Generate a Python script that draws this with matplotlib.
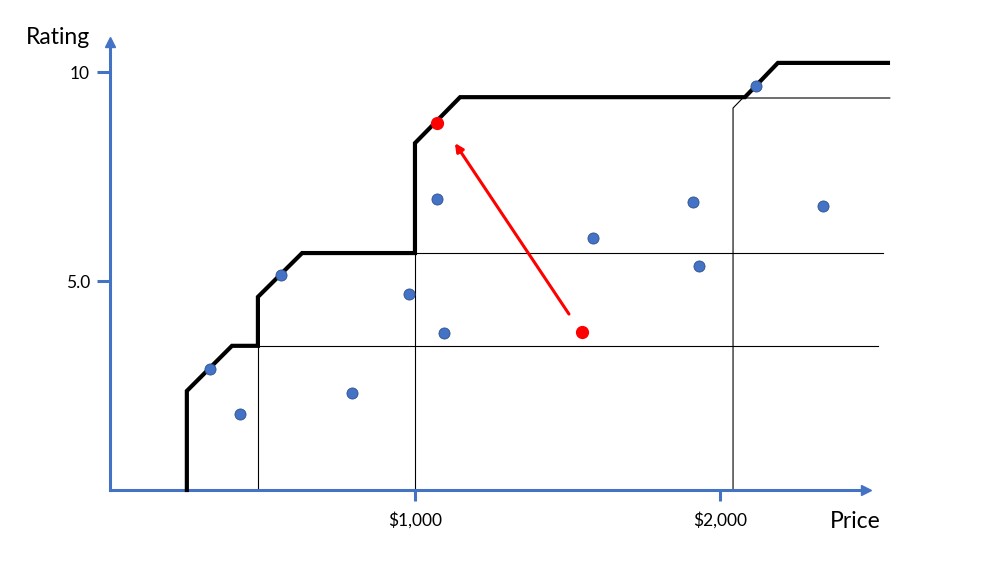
import matplotlib
matplotlib.use("Agg")
import matplotlib.pyplot as plt

# price / rating data
blue_price = [328, 426, 560, 794, 981, 1072, 1095, 1583, 1912, 1931, 2118, 2339]
blue_rating = [2.90, 1.81, 5.14, 2.32, 4.68, 6.96, 3.76, 6.02, 6.88, 5.35, 9.67, 6.80]

red_price = [1072, 1549]
red_rating = [8.78, 3.78]

# Pareto frontier (thick black step line)
frontier_price = [252, 252, 400, 485, 485, 630, 1000, 1000, 1148, 2082, 2190, 2551]
frontier_rating = [0, 2.37, 3.45, 3.45, 4.62, 5.67, 5.67, 8.30, 9.40, 9.40, 10.22, 10.22]

# thin guide lines (price list, rating list)
guides = [
    ([485, 485], [0, 3.45]),
    ([485, 2518], [3.45, 3.45]),
    ([1000, 1000], [0, 5.67]),
    ([1000, 2534], [5.67, 5.67]),
    ([2043, 2043, 2075, 2557], [0, 9.14, 9.38, 9.38]),
]

arrow_start = (1505, 4.21)
arrow_end = (1131, 8.30)

x_ticks = [1000, 2000]
x_ticklabels = ["$1,000", "$2,000"]
y_ticks = [5, 10]
y_ticklabels = ["5.0", "10"]

AXIS_BLUE = "#4472C4"
W, H = 1006, 563

plt.rcParams["font.family"] = ["Lato", "DejaVu Sans"]

fig = plt.figure(figsize=(W / 100, H / 100), dpi=100)
ax = fig.add_axes([110 / W, (H - 490) / H, (866 - 110) / W, (490 - 42) / H])
ax.set_xlim(0, 2479)
ax.set_ylim(0, 10.72)

for g_x, g_y in guides:
    ax.plot(g_x, g_y, color="black", lw=0.8, clip_on=False, zorder=2)

ax.plot(frontier_price, frontier_rating, color="black", lw=3.0,
        solid_joinstyle="miter", clip_on=False, zorder=3)

ax.annotate("", xy=arrow_end, xytext=arrow_start,
            arrowprops=dict(arrowstyle="-|>", color="red", lw=2.2,
                            mutation_scale=12, shrinkA=0, shrinkB=0),
            zorder=4)

ax.plot(blue_price, blue_rating, "o", color=AXIS_BLUE, markeredgecolor="#2F528F",
        markeredgewidth=0.6, markersize=8, clip_on=False, zorder=5)
ax.plot(red_price, red_rating, "o", color="red", markeredgecolor="red",
        markersize=8.5, clip_on=False, zorder=5)

for side in ("top", "right"):
    ax.spines[side].set_visible(False)
for side in ("left", "bottom"):
    ax.spines[side].set_color(AXIS_BLUE)
    ax.spines[side].set_linewidth(2.2)

# arrow heads at the axis ends
ax.plot(1, 0, ">", color=AXIS_BLUE, markersize=7, transform=ax.transAxes, clip_on=False)
ax.plot(0, 1, "^", color=AXIS_BLUE, markersize=7, transform=ax.transAxes, clip_on=False)

ax.set_xticks(x_ticks)
ax.set_xticklabels(x_ticklabels)
ax.set_yticks(y_ticks)
ax.set_yticklabels(y_ticklabels)
ax.tick_params(axis="x", length=8, width=2.2, color=AXIS_BLUE, pad=8, labelsize=12.5)
ax.tick_params(axis="y", length=9.5, width=2.2, color=AXIS_BLUE, pad=5, labelsize=12.5)

fig.text(58 / W, 1 - 38 / H, "Rating", ha="center", va="center", fontsize=16.5)
fig.text(855 / W, 1 - 522 / H, "Price", ha="center", va="center", fontsize=16.5)

fig.savefig("out.png", dpi=100, facecolor="white")
plt.close(fig)
